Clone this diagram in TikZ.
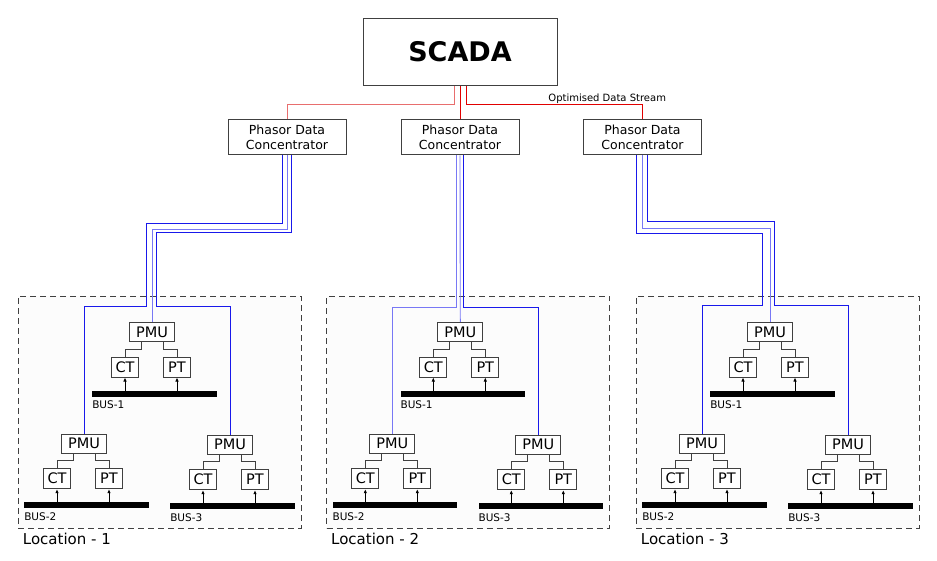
\documentclass[tikz,border=0pt]{standalone}
\usepackage{fontspec}
\setmainfont{DejaVu Sans}
\usetikzlibrary{arrows.meta, positioning, calc}
\definecolor{linkblue}{RGB}{25,25,235}
\definecolor{linklight}{RGB}{120,120,245}
\definecolor{streamred}{RGB}{225,0,0}
\definecolor{streamlight}{RGB}{232,110,110}
\tikzset{box/.style={draw=black!75, line width=1pt, fill=white, inner sep=0pt, align=center}}
\tikzset{scada/.style={box, minimum width=194pt, minimum height=67pt, font=\fontsize{27}{30}\selectfont\bfseries}}
\tikzset{pdc/.style={box, minimum width=118pt, minimum height=35pt, font=\fontsize{12.5}{15}\selectfont}}
\tikzset{pmu/.style={box, minimum width=45pt, minimum height=19pt, font=\fontsize{14.5}{16}\selectfont}}
\tikzset{sensor/.style={box, minimum width=27pt, minimum height=20pt, font=\fontsize{14.5}{16}\selectfont}}
\tikzset{bus/.style={fill=black, inner sep=0pt, minimum width=124.5pt, minimum height=6pt}}
\tikzset{buslabel/.style={inner sep=0pt, font=\fontsize{10.5}{12}\selectfont}}
\tikzset{location/.style={draw=black!75, line width=1pt, dash pattern=on 6pt off 4pt, fill=black!1, inner sep=0pt, minimum width=283pt, minimum height=232pt}}
\tikzset{loclabel/.style={inner sep=0pt, font=\fontsize{15}{17}\selectfont}}
\tikzset{wire/.style={draw=black!75, line width=0.9pt}}
\tikzset{sense/.style={-{Latex[length=4pt,width=3.5pt]}, line width=0.9pt}}
\tikzset{stream/.style={draw=streamred, line width=0.9pt}}
\tikzset{streamfaint/.style={draw=streamlight, line width=0.9pt}}
\tikzset{link/.style={draw=linkblue, line width=0.9pt}}
\tikzset{linkfaint/.style={draw=linklight, line width=0.9pt}}

\begin{document}
\begin{tikzpicture}[x=1pt, y=-1pt]
\useasboundingbox (0,0) rectangle (937,561);

\node[scada] (scada) at (460,52) {SCADA};
\node[pdc, below=33.5pt of scada] (pdc2) {Phasor Data\\Concentrator};
\node[pdc, left=54pt of pdc2] (pdc1) {Phasor Data\\Concentrator};
\node[pdc, right=63.5pt of pdc2] (pdc3) {Phasor Data\\Concentrator};

% one dashed block per substation site
\foreach \i/\x in {1/17.7, 2/326, 3/635.7} {
  \begin{scope}[shift={(\x,295.7)}]
    \node[location, anchor=north west] (loc\i) at (0,0) {};
    \node[loclabel, below right=4pt and 5pt of loc\i.south west] {Location - \i};
    \node[pmu] (pmuA\i) at (134.3,36.3) {PMU};
    \node[pmu] (pmuB\i) at (66.3,148) {PMU};
    \node[pmu] (pmuC\i) at (212.3,149) {PMU};
    \foreach \u/\n in {A/1, B/2, C/3} {
      \node[sensor, below=14.5pt of pmu\u\i, xshift=-27pt] (ct\u\i) {CT};
      \node[sensor, below=14.5pt of pmu\u\i, xshift=25pt] (pt\u\i) {PT};
      \node[bus, below=48.5pt of pmu\u\i, xshift=2.5pt] (bus\u\i) {};
      \node[buslabel, below right=4pt and 0pt of bus\u\i.south west] {BUS-\n};
      \draw[wire] ([xshift=-11pt]pmu\u\i.south) -- ++(0,7) -| (ct\u\i.north);
      \draw[wire] ([xshift=11pt]pmu\u\i.south) -- ++(0,7) -| (pt\u\i.north);
      \draw[sense] (ct\u\i.south |- bus\u\i.north) -- (ct\u\i.south);
      \draw[sense] (pt\u\i.south |- bus\u\i.north) -- (pt\u\i.south);
    }
  \end{scope}
}

\draw[streamfaint] ([xshift=-6pt]scada.south) -- ++(0,18) -| (pdc1.north);
\draw[stream] (scada.south) -- (pdc2.north);
\draw[stream] ([xshift=6pt]scada.south) -- ++(0,18) -| node[pos=0.4, anchor=base, yshift=2pt, inner sep=0pt, font=\fontsize{10}{12}\selectfont, text=black] {Optimised Data Stream} (pdc3.north);

\draw[link] ([xshift=-4.7pt]pdc1.south) |- (146.7,223.3) -- (146.7,306.3) -| (pmuB1.north);
\draw[linkfaint] (pdc1.south) -- ++(0,74) -| (pmuA1.north);
\draw[link] ([xshift=4pt]pdc1.south) |- (156.3,232) -- (156.3,306.3) -| (pmuC1.north);

\draw[linkfaint] ([xshift=-4pt]pdc2.south) -- ++(0,152) -| (pmuB2.north);
\draw[linkfaint] (pdc2.south) -- (pmuA2.north);
\draw[link] ([xshift=3.3pt]pdc2.south) -- ++(0,152) -| (pmuC2.north);

\draw[link] ([xshift=-5.7pt]pdc3.south) |- (762.7,233) -- (762.7,305.7) -| (pmuB3.north);
\draw[linkfaint] (pdc3.south) -- ++(0,73) -| (pmuA3.north);
\draw[link] ([xshift=4.7pt]pdc3.south) |- (774.3,221.3) -- (774.3,305.7) -| (pmuC3.north);
\end{tikzpicture}
\end{document}
